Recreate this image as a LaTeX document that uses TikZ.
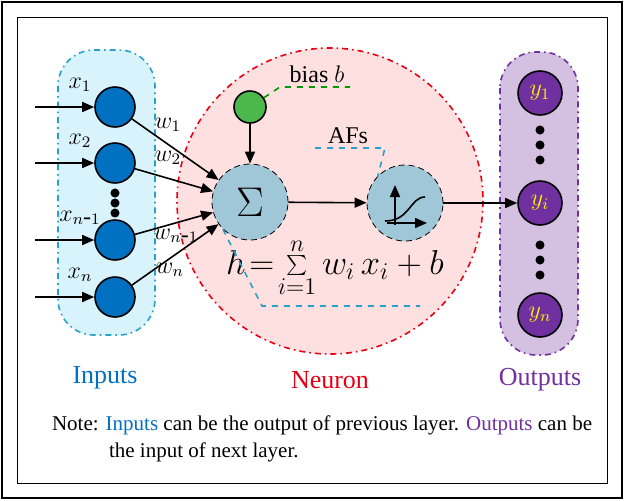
\documentclass[tikz,border=0pt]{standalone}
\usepackage{fontspec}
\setmainfont{Liberation Serif}
\usepackage{tikz}
\usetikzlibrary{arrows.meta}
\definecolor{inblue}{RGB}{0,112,192}
\definecolor{neured}{RGB}{230,0,18}
\definecolor{outpur}{RGB}{112,48,160}
\definecolor{boxcyan}{RGB}{40,160,200}
\begin{document}
\begin{tikzpicture}[x=0.5pt,y=-0.5pt,font=\fontsize{10}{12}\selectfont,
    >={Triangle[length=6pt,width=5pt]},
    inode/.style={circle,draw=black,thick,fill=inblue,minimum size=20pt,inner sep=0pt},
    onode/.style={circle,draw=black,thick,fill=outpur,minimum size=22pt,inner sep=0pt,text=yellow},
    pnode/.style={circle,draw=black,densely dashed,fill=cyan!45!gray!60,minimum size=38pt,inner sep=0pt},
    dot/.style={circle,fill=black,inner sep=1.6pt}]
    \useasboundingbox (0,0) rectangle (624,500);
    \draw[line width=1.2pt] (2,2) rectangle (622,498);
    \draw (17,17) rectangle (607,483);

% groups
    \fill[red!12] (330,201) circle (153);
    \draw[neured,thick,dash dot] (330,201) circle (153);
    \draw[boxcyan,thick,dash dot,fill=cyan!15,rounded corners=18pt] (58,50) rectangle (155,335);
    \draw[outpur,thick,dash dot,fill=outpur!30,rounded corners=18pt] (500,52) rectangle (578,355);

% inputs
    \foreach \y/\n/\t in {107/1/1,163/2/2,240/3/{n\mbox{-}1},297/4/n}{
        \node[inode] (x\n) at (115,\y) {};
        \coordinate (s\n) at (35,\y);
        \draw[->,thick] (s\n) -- (x\n);
        \node at (80,\y-22) {\large $x_{\t}$};
    }
    \foreach \y in {193,203,213} \node[dot] at (115,\y) {};

% neuron
    \node[pnode] (sum) at (250,202) {\fontsize{22}{24}\selectfont$\Sigma$};
    \node[circle,draw=black,thick,fill=green!60!black!70,minimum size=16pt] (bias) at (250,107) {};
    \node[pnode] (af) at (405,203) {};
    \draw[thick,->] (af.center)++(-18,20) -- ++(40,0);
    \draw[thick,->] (af.center)++(-10,22) -- ++(0,-40);
    \draw[thick] (af.center)++(-20,18) .. controls +(25,0) and +(-15,0) .. ++(40,-24);

    \foreach \n in {1,2,3,4}{
        \draw[->,thick] (x\n) -- (sum);
    }
    \node at (168,125) {\large$w_1$};
    \node at (168,158) {\large$w_2$};
    \node at (176,236) {\large$w_{n\mbox{-}1}$};
    \node at (170,270) {\large$w_n$};
    \draw[->,thick] (bias) -- (sum);
    \draw[->,thick] (sum) -- (af);

    \node (lbias) at (317,74) {\large bias $b$};
    \draw[green!60!black,thick,dashed] (bias) -- (280,87) -- (350,87);
    \node (laf) at (348,136) {\large AFs};
    \draw[boxcyan,thick,dashed] (315,148) -- (385,148) -- (af.north west);
    \node at (335,268) {\fontsize{17}{20}\selectfont$h\!=\!\sum\limits_{i=1}^{n} w_i\, x_i + b$};
    \draw[boxcyan,thick,dashed] (sum.south west) -- (262,306) -- (420,306);

% outputs
    \node[onode] (y1) at (540,93) {\large$y_1$};
    \node[onode] (yi) at (540,203) {\large$y_i$};
    \node[onode] (yn) at (540,315) {\large$y_n$};
    \foreach \y in {130,145,160,245,260,275} \node[dot] at (540,\y) {};
    \draw[->,thick] (af) -- (yi);

% labels
    \node[inblue] at (105,378) {\fontsize{13}{15}\selectfont Inputs};
    \node[neured] at (330,380) {\fontsize{13}{15}\selectfont Neuron};
    \node[outpur] at (540,380) {\fontsize{13}{15}\selectfont Outputs};
    \node[anchor=west] at (45,425) {\fontsize{10.5}{12}\selectfont Note: \textcolor{inblue}{Inputs} can be the output of previous layer. \textcolor{outpur}{Outputs} can be};
    \node[anchor=west] at (102,452) {\fontsize{10.5}{12}\selectfont the input of next layer.};
\end{tikzpicture}
\end{document}
